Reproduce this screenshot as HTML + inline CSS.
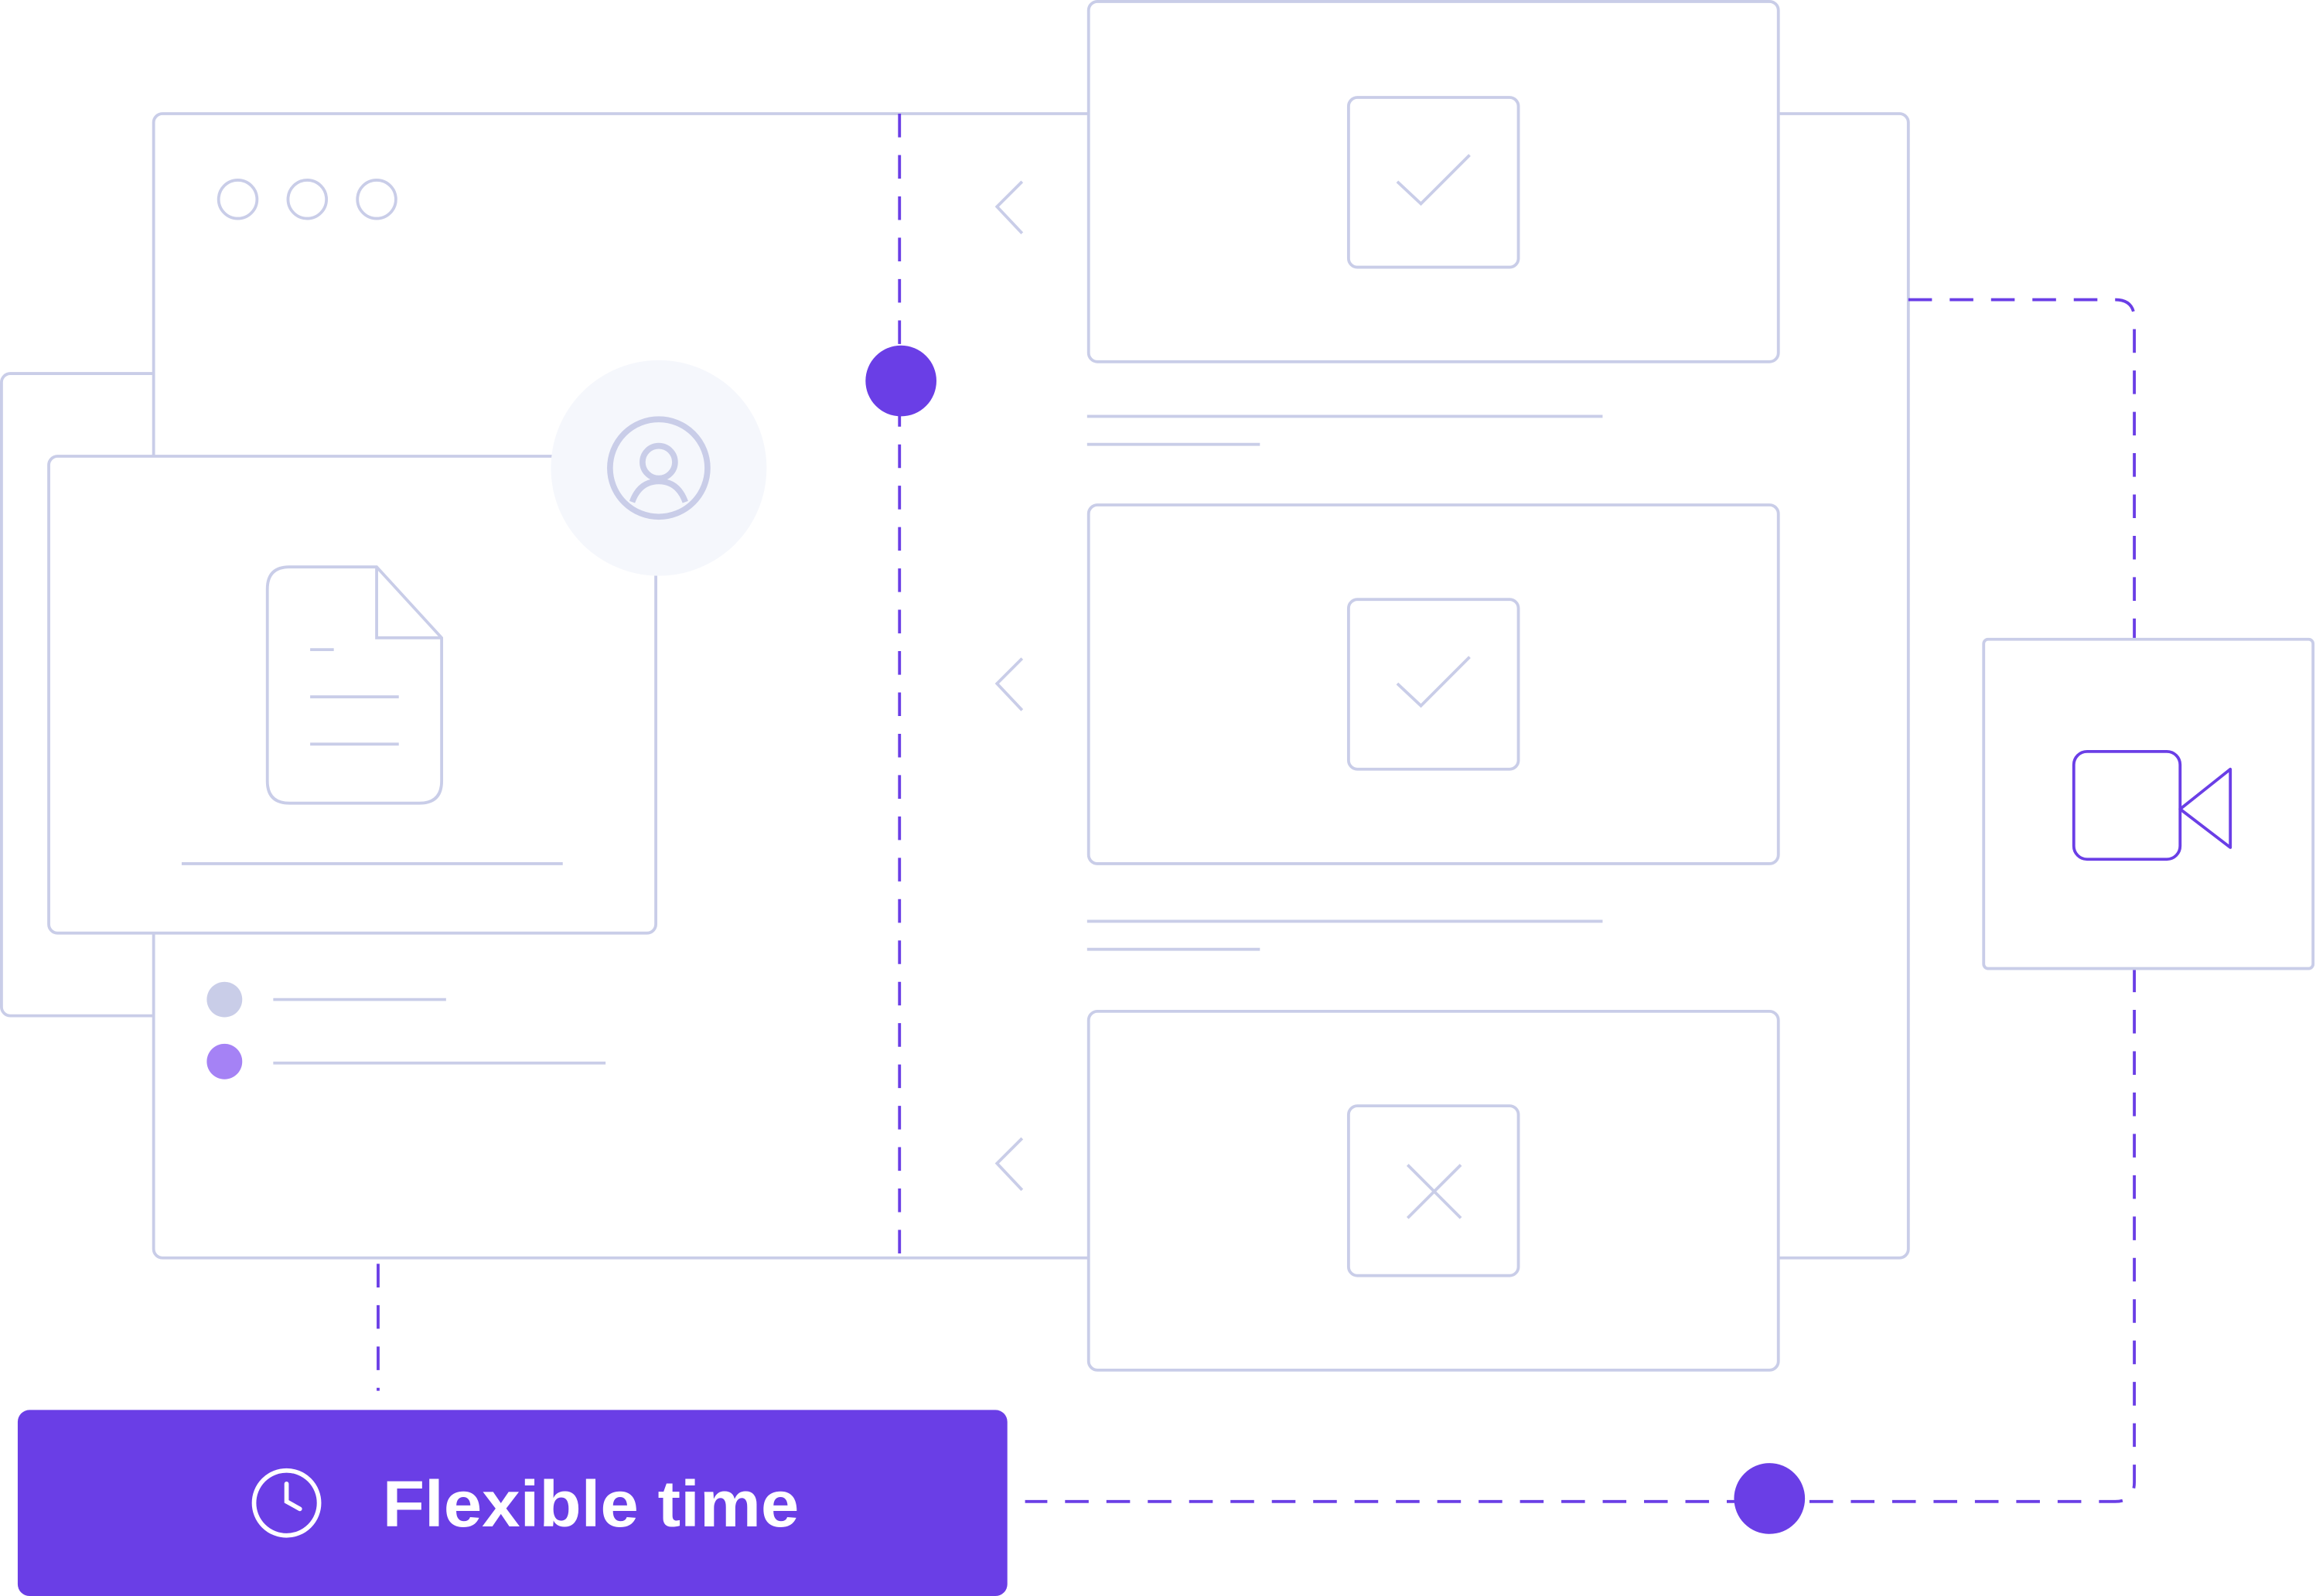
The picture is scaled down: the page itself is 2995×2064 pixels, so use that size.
<!DOCTYPE html>
<html><head><meta charset="utf-8"><style>
html,body{margin:0;padding:0;background:#fff;}
svg{display:block;}
</style></head><body>
<svg width="2995" height="2064" viewBox="0 0 1568 1081" preserveAspectRatio="none" xmlns="http://www.w3.org/2000/svg">
<g fill="none" stroke="#c9cde8" stroke-width="2">
 <!-- back left panel -->
 <rect x="1" y="253" width="200" height="435" rx="6" fill="#fff"/>
 <!-- main window -->
 <rect x="104" y="77" width="1188" height="775" rx="6" fill="#fff"/>
 <circle cx="161" cy="135" r="13"/><circle cx="208" cy="135" r="13"/><circle cx="255" cy="135" r="13"/>
 <!-- doc card -->
 <rect x="33" y="309" width="411" height="323" rx="6" fill="#fff"/>
 <path d="M196 384 H255 L299 432 V529 Q299 544 284 544 H196 Q181 544 181 529 V399 Q181 384 196 384 Z"/>
 <path d="M255 384 V432 H299"/>
 <line x1="210" y1="440" x2="226" y2="440"/>
 <line x1="210" y1="472" x2="270" y2="472"/>
 <line x1="210" y1="504" x2="270" y2="504"/>
 <line x1="123" y1="585" x2="381" y2="585"/>
 <!-- bullets lines -->
 <line x1="185" y1="677" x2="302" y2="677"/>
 <line x1="185" y1="720" x2="410" y2="720"/>
 <!-- chevrons -->
 <path d="M692 123 L675 140 L692 158"/>
 <path d="M692 446 L675 463 L692 481"/>
 <path d="M692 771 L675 788 L692 806"/>
 <!-- text lines -->
 <line x1="736" y1="282" x2="1085" y2="282"/>
 <line x1="736" y1="301" x2="853" y2="301"/>
 <line x1="736" y1="624" x2="1085" y2="624"/>
 <line x1="736" y1="643" x2="853" y2="643"/>
</g>
<circle cx="152" cy="677" r="12" fill="#c9cde8"/>
<circle cx="152" cy="719" r="12" fill="#a582f5"/>
<!-- avatar -->
<circle cx="446" cy="317" r="73" fill="#f5f7fc"/>
<g fill="none" stroke="#c9cde8" stroke-width="4">
 <circle cx="446" cy="317" r="33"/>
 <circle cx="446" cy="313" r="11"/>
 <path d="M428 340 Q433 326 446 326 Q459 326 464 340"/>
</g>
<!-- dashed purple lines -->
<g fill="none" stroke="#6a3ee6" stroke-width="2" stroke-dasharray="16 12">
 <line x1="609" y1="77" x2="609" y2="852"/>
 <line x1="256" y1="856" x2="256" y2="942"/>
 <path d="M1292 203 H1432 Q1445 203 1445 216 V433"/>
 <path d="M1445 656 V1004 Q1445 1017 1432 1017 H694"/>
</g>
<!-- right cards -->
<g fill="#fff" stroke="#c9cde8" stroke-width="2">
 <rect x="737" y="1" width="467" height="244" rx="6"/>
 <rect x="737" y="342" width="467" height="243" rx="6"/>
 <rect x="737" y="685" width="467" height="243" rx="6"/>
 <rect x="913" y="66" width="115" height="115" rx="6"/>
 <rect x="913" y="406" width="115" height="115" rx="6"/>
 <rect x="913" y="749" width="115" height="115" rx="6"/>
 <rect x="1343" y="433" width="223" height="223" rx="3"/>
</g>
<g fill="none" stroke="#c9cde8" stroke-width="2">
 <path d="M946 123 L962 138 L995 105"/>
 <path d="M946 463 L962 478 L995 445"/>
 <path d="M953 789 L989 825 M989 789 L953 825"/>
</g>
<g fill="none" stroke="#6a3ee6" stroke-width="2" stroke-linejoin="round">
 <rect x="1404" y="509" width="72" height="73" rx="9"/>
 <path d="M1476 548 L1510 521 V574 Z"/>
</g>
<circle cx="610" cy="258" r="24" fill="#6a3ee6"/>
<circle cx="1198" cy="1015" r="24" fill="#6a3ee6"/>
<!-- button -->
<rect x="12" y="955" width="670" height="126" rx="8" fill="#6a3ee6"/>
<g fill="none" stroke="#fff" stroke-width="3" stroke-linecap="round">
 <circle cx="194" cy="1018" r="22"/>
 <path d="M194 1005 V1017 L203 1022"/>
</g>
<text x="259" y="1034" fill="#fff" font-family="Liberation Sans, sans-serif" font-weight="bold" font-size="44" textLength="282" lengthAdjust="spacingAndGlyphs">Flexible time</text>
</svg>
</body></html>
